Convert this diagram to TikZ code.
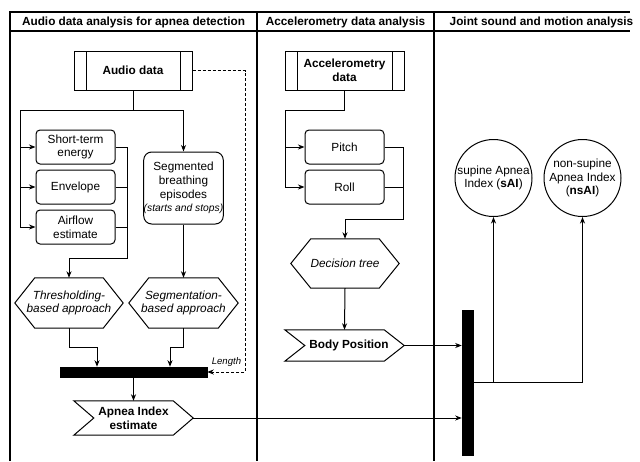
\documentclass[tikz,border=0pt]{standalone}
\usepackage{fontspec}
\setmainfont{Liberation Sans}
\usetikzlibrary{arrows.meta,calc}
\newcommand{\hexout}[2]{\draw[shapeline] (#1.west) -- ([xshift=#2]#1.north west) -- ([xshift=-#2]#1.north east) -- (#1.east) -- ([xshift=-#2]#1.south east) -- ([xshift=#2]#1.south west) -- cycle;}
\newcommand{\stepout}[2]{\draw[shapeline] (#1.north west) -- ([xshift=-#2]#1.north east) -- (#1.east) -- ([xshift=-#2]#1.south east) -- (#1.south west) -- ([xshift=#2]#1.west) -- cycle;}
\begin{document}
\begin{tikzpicture}[x=1pt,y=-1pt,
  font=\fontsize{11.8}{13.8}\selectfont,
  shapeline/.style={line width=1pt, line join=miter},
  lane/.style={line width=1.2pt},
  proc/.style={draw, shapeline, inner sep=0pt, align=center, minimum width=118pt, minimum height=39pt,
    path picture={\draw[shapeline] ([xshift=12pt]path picture bounding box.north west) -- ([xshift=12pt]path picture bounding box.south west)
      ([xshift=-12pt]path picture bounding box.north east) -- ([xshift=-12pt]path picture bounding box.south east);}},
  rbox/.style={draw, shapeline, rounded corners=4pt, inner sep=0pt, align=center, minimum width=79pt, minimum height=34pt},
  hexa/.style={inner sep=0pt, align=center, font=\fontsize{11.8}{13.8}\selectfont\itshape},
  stepbox/.style={inner sep=0pt, align=center, font=\fontsize{11.8}{13.8}\selectfont\bfseries},
  bar/.style={fill=black, draw=black, line width=0.5pt, inner sep=0pt},
  circ/.style={draw, shapeline, circle, minimum size=77pt, inner sep=0pt, align=center},
  title/.style={font=\fontsize{11.8}{13.8}\selectfont\bfseries, inner sep=0pt},
  conn/.style={line width=1pt},
  arr/.style={conn, -{Stealth[length=6.5pt,width=5pt,inset=2pt]}}
]
\useasboundingbox (0,0) rectangle (640,461);
% lanes
\draw[lane] (10,461) -- (10,12) -- (630,12);
\draw[lane] (10,31) -- (630,31);
\draw[lane] (257,12) -- (257,461);
\draw[lane] (434,12) -- (434,461);
\node[title] (t1) at (133.5,22) {Audio data analysis for apnea detection};
\node[title] (t2) at (345.5,22) {Accelerometry data analysis};
\node[title] (t3) at (541.5,22) {Joint sound and motion analysis};

% audio lane
\node[proc, font=\fontsize{11.8}{13.8}\selectfont\bfseries] (audio) at (133,70.5) {Audio data};
\node[rbox] (ste) at (75.5,147) {Short-term\\energy};
\node[rbox] (env) at (75.5,187) {Envelope};
\node[rbox] (air) at (75.5,227) {Airflow\\estimate};
\node[rbox, rounded corners=8pt, minimum height=72pt] (seg) at (183.5,188) {Segmented\\breathing\\episodes\\{\fontsize{10.3}{12}\selectfont\itshape (starts and stops)}};
\node[hexa, minimum width=108pt, minimum height=50pt] (thr) at (69,303) {Thresholding-\\based approach};
\hexout{thr}{20pt}
\node[hexa, minimum width=109pt, minimum height=50pt] (sga) at (183.5,303) {Segmentation-\\based approach};
\hexout{sga}{20pt}
\node[bar, minimum width=147pt, minimum height=10pt] (bar1) at (133.5,372) {};
\node[stepbox, minimum width=119pt, minimum height=34pt] (api) at (133.5,418) {Apnea Index\\estimate};
\stepout{api}{20pt}
\node[font=\fontsize{9.6}{11}\selectfont\itshape, inner sep=0pt] (len) at (226.5,362) {Length};

\coordinate (tl) at (20,110);
\draw[arr] (audio.south) |- (tl) |- (air.west);
\draw[arr] (tl) |- (ste.west);
\draw[arr] (tl) |- (env.west);
\draw[arr] (audio.south) -- ++(0,19.5) -| (seg.north);
\coordinate (br) at (127,258);
\draw[conn] (ste.east) -| (br);
\draw[conn] (env.east) -| (br);
\draw[arr] (air.east) -| (br) -| (thr.north);
\draw[arr] (seg.south) -- (sga.north);
\draw[arr] (thr.south) -- ++(0,19) -| ([xshift=-36.5pt]bar1.north);
\draw[arr] (sga.south) -- ++(0,19) -| ([xshift=36.5pt]bar1.north);
\draw[arr] (bar1.south) -- (api.north);
\coordinate (dc) at (245,70.5);
\draw[arr, dashed, dash pattern=on 3pt off 2pt, line width=0.8pt] (audio.east) -- (dc) |- (bar1.east);

% accelerometry lane
\node[proc, minimum width=119pt, font=\fontsize{11.8}{13.8}\selectfont\bfseries] (acc) at (344.5,70.5) {Accelerometry\\data};
\node[rbox] (pitch) at (344.5,147) {Pitch};
\node[rbox] (roll) at (344.5,187) {Roll};
\node[hexa, minimum width=108pt, minimum height=49pt] (dt) at (345,263.5) {Decision tree};
\hexout{dt}{20pt}
\node[stepbox, minimum width=119pt, minimum height=31pt] (bp) at (344.5,345.5) {\hspace{9pt}Body Position};
\stepout{bp}{20pt}
\coordinate (al) at (285,110);
\draw[arr] (acc.south) |- (al) |- (roll.west);
\draw[arr] (al) |- (pitch.west);
\coordinate (ar) at (403,219);
\draw[conn] (pitch.east) -| (ar);
\draw[arr] (roll.east) -| (ar) -| (dt.north);
\draw[arr] (dt.south) -- (bp.north);

% joint lane
\node[bar, minimum width=11pt, minimum height=145pt] (bar2) at (467.5,382.5) {};
\node[circ] (sai) at (493.5,178) {supine Apnea\\Index (\textbf{sAI})};
\node[circ] (nsai) at (582.5,178) {non-supine\\Apnea Index\\(\textbf{nsAI})};
\draw[arr] (bp.east) -- (bp.east -| bar2.west);
\draw[arr] (api.east) -- (api.east -| bar2.west);
\draw[arr] (bar2.east) -| (sai.south);
\draw[arr] (bar2.east) -| (nsai.south);
\end{tikzpicture}
\end{document}
